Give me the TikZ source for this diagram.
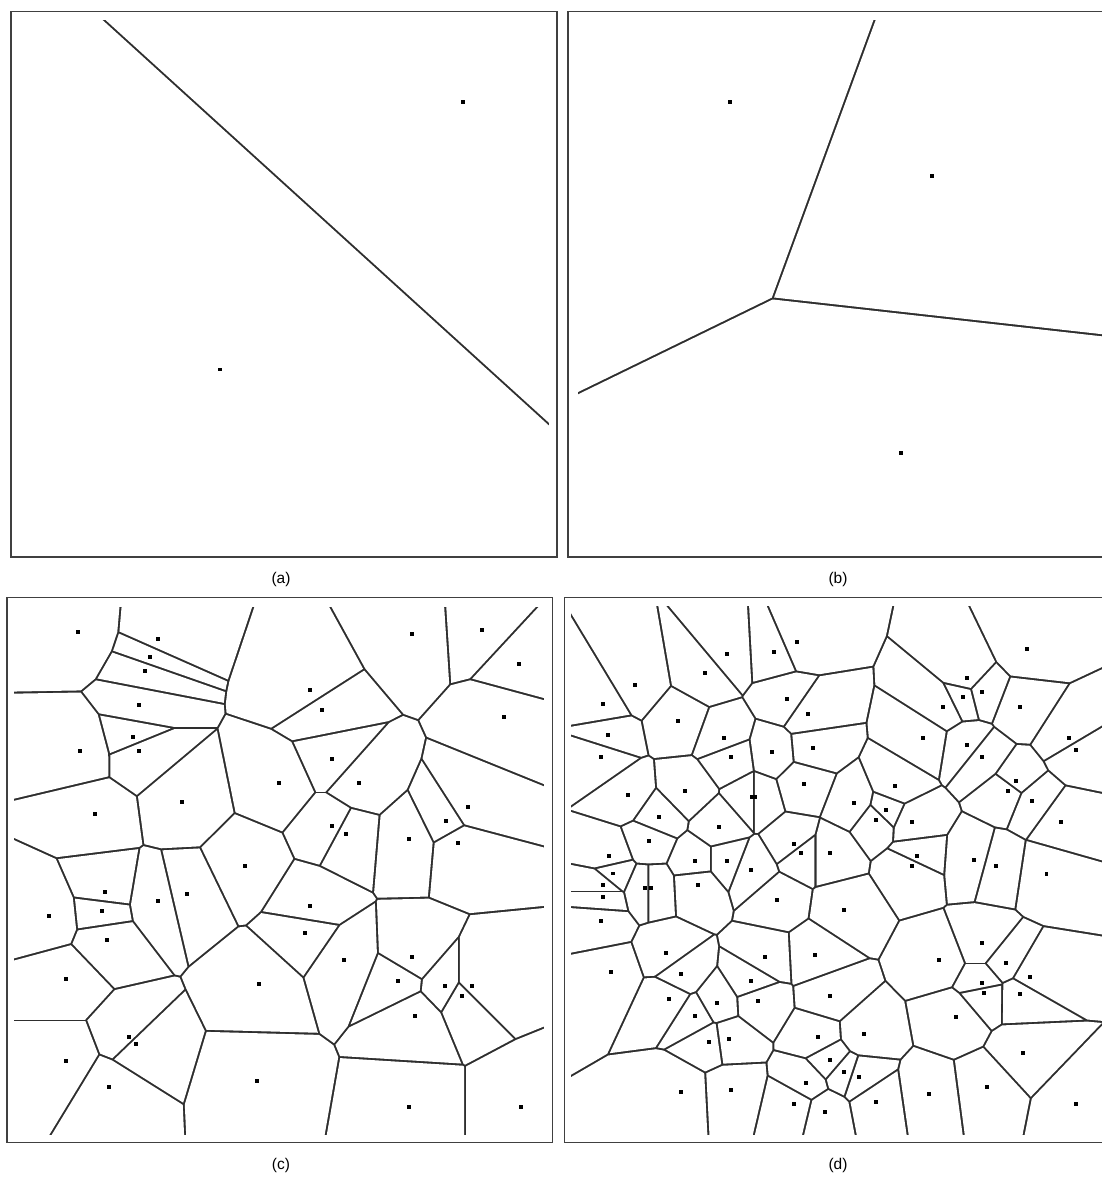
\documentclass[tikz,border=0pt]{standalone}
\usepackage{fontspec}
\setmainfont{Liberation Sans}
\tikzset{
  panelframe/.style={draw=black!75, line width=1.5pt},
  lab/.style={font=\fontsize{15.5}{18}\selectfont, inner sep=0pt},
}
\def\hw{1.05}
\def\Lbig{3000}
% \vorpanel{sites}{xmin}{ymin}{xmax}{ymax}{max squared distance in (100px)^2}
\newcommand\vorpanel[6]{%
  \fill[black!82] (#2,#3) rectangle (#4,#5);
  \foreach \sx/\sy in {#1} {%
    \begin{scope}
      \foreach \tx/\ty in {#1} {%
        \pgfmathsetmacro\vdx{(\tx-\sx)/100}%
        \pgfmathsetmacro\vdy{(\ty-\sy)/100}%
        \pgfmathsetmacro\vdd{\vdx*\vdx+\vdy*\vdy}%
        \ifdim\vdd pt>0.00001pt
          \ifdim\vdd pt<#6pt
            \pgfmathsetmacro\vr{sqrt(\vdd)}%
            \pgfmathsetmacro\vux{\vdx/\vr}%
            \pgfmathsetmacro\vuy{\vdy/\vr}%
            \pgfmathsetmacro\vmx{\sx+(\vr*50-\hw)*\vux}%
            \pgfmathsetmacro\vmy{\sy+(\vr*50-\hw)*\vuy}%
            \clip ({\vmx-\Lbig*\vuy},{\vmy+\Lbig*\vux}) -- ({\vmx+\Lbig*\vuy},{\vmy-\Lbig*\vux}) -- ({\vmx+\Lbig*\vuy-\Lbig*\vux},{\vmy-\Lbig*\vux-\Lbig*\vuy}) -- ({\vmx-\Lbig*\vuy-\Lbig*\vux},{\vmy+\Lbig*\vux-\Lbig*\vuy}) -- cycle;
          \fi
        \fi
      }%
      \fill[white] (#2-5,#3-5) rectangle (#4+5,#5+5);
    \end{scope}
  }%
  \foreach \sx/\sy in {#1} {\fill (\sx-1.9,\sy-1.9) rectangle (\sx+1.9,\sy+1.9);}%
}
\begin{document}
\begin{tikzpicture}[x=1pt,y=-1pt]
\useasboundingbox (0,0) rectangle (1102,1178);
\fill[white] (0,0) rectangle (1102,1178);
% (a)
\vorpanel{463/102, 220/369.5}{20}{20}{549}{549}{100}
% (b)
\vorpanel{730/102, 932/176, 901/453}{578}{20}{1115}{549}{100}
% (c)
\vorpanel{78.0/632.3, 158.0/639.3, 150.3/656.7, 145.3/671.0, 138.7/705.3, 133.0/736.7, 138.7/750.7, 80.0/750.7, 279.0/782.7, 182.0/802.3, 95.0/814.0, 245.0/865.7, 411.7/634.3, 482.0/629.7, 518.7/663.7, 309.7/690.3, 322.3/710.0, 504.3/717.0, 332.0/758.7, 359.0/782.7, 468.0/806.7, 445.7/821.0, 332.0/826.0, 346.3/833.7, 409.3/839.0, 458.3/843.3, 104.7/891.7, 186.7/894.0, 158.0/900.7, 48.7/916.3, 102.3/910.7, 106.7/940.0, 65.7/979.3, 259.3/983.7, 128.7/1036.7, 136.0/1044.3, 65.7/1061.0, 109.0/1087.3, 256.7/1080.7, 309.7/906.3, 305.3/933.0, 344.3/959.7, 412.0/957.0, 397.7/981.0, 445.3/986.0, 472.3/986.0, 462.3/996.0, 414.7/1015.7, 409.0/1107.3, 521.3/1107.3}{14}{606.5}{544}{1135}{12.25}
% (d)
\vorpanel{727.0/654.3, 704.7/673.0, 635.0/685.0, 603.0/704.3, 678.0/721.3, 608.3/735.3, 724.0/738.0, 601.3/757.3, 731.3/757.3, 627.7/795.3, 685.3/791.0, 658.7/817.0, 718.7/826.7, 649.0/841.0, 608.7/856.0, 695.0/860.7, 726.7/860.7, 612.7/873.5,
796.7/642.0, 774.3/651.7, 787.0/699.3, 808.3/714.0, 923.2/738.2, 772.0/751.7, 813.3/748.0, 752.3/797.3, 755.3/797.3, 803.7/783.7, 854.3/803.3, 894.7/786.3, 885.7/810.0, 876.0/820.0, 912.3/822.0, 793.7/843.7, 801.0/853.3, 830.0/853.3, 750.8/870.0, 916.6/856.0, 911.9/866.0,
1027.0/649.0, 967.0/678.0, 982.3/692.3, 962.7/697.3, 943.0/707.0, 1020.3/707.0, 967.0/745.3, 982.0/757.3, 1068.7/738.0, 1076.0/750.3, 1015.7/781.0, 1008.3/791.0, 1032.3/800.7, 1061.3/821.7, 974.3/860.3, 996.0/866.2, 1046.5/873.8,
603.0/885.3, 603.0/897.3, 645.3/887.7, 651.3/887.7, 697.7/885.3, 601.3/921.3, 666.0/953.0, 611.3/972.3, 681.0/974.0, 668.7/999.0, 717.0/1003.0, 695.0/1015.7, 709.3/1041.7, 728.7/1039.0, 681.0/1092.3, 731.3/1089.7,
776.7/900.0, 844.3/909.7, 765.0/957.3, 815.0/954.7, 751.0/981.0, 758.0/1000.7, 830.0/996.0, 817.7/1037.0, 863.7/1034.0, 830.0/1060.0, 844.3/1072.3, 859.3/1077.3, 806.0/1082.7, 794.0/1104.3, 825.0/1111.7, 875.7/1102.0,
982.0/943.3, 939.0/960.0, 1006.0/962.7, 1030.0/976.7, 982.0/983.3, 984.0/993.3, 1020.3/993.7, 955.7/1017.3, 1023.0/1053.3, 986.7/1086.7, 929.0/1094.3, 1076.0/1104.3}{571}{606}{1115}{1135}{9}
% frames
\draw[panelframe] (11,11.5) rectangle (557,557);
\draw[panelframe] (568,11.5) rectangle (1115,557);
\draw[panelframe] (7,597.5) rectangle (552.5,1142.5);
\draw[panelframe] (564.5,597.5) rectangle (1115,1142.5);
% labels
\node[lab] (la) at (281,579) {(a)};
\node[lab] (lb) at (838,579) {(b)};
\node[lab] (lc) at (281,1165) {(c)};
\node[lab] (ld) at (838,1165) {(d)};
\end{tikzpicture}
\end{document}
